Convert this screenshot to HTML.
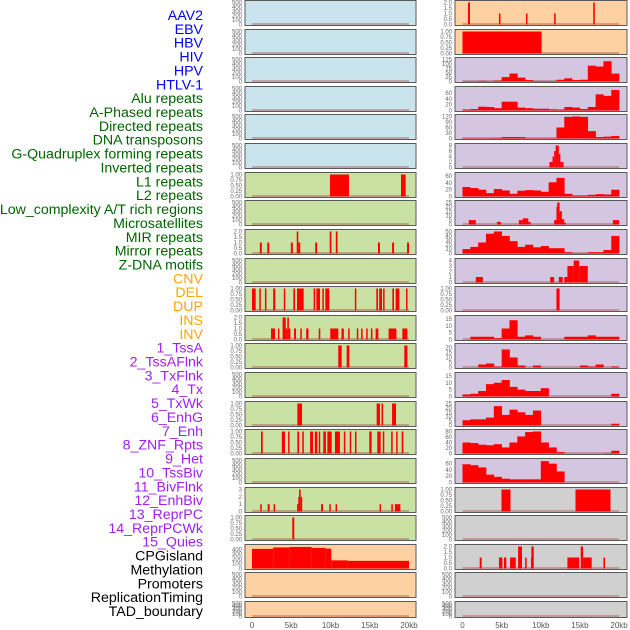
<!DOCTYPE html>
<html><head><meta charset="utf-8"><style>
html,body{margin:0;padding:0;background:#fff;width:630px;height:630px;overflow:hidden}
svg{display:block;font-family:"Liberation Sans",sans-serif}
</style></head><body>
<svg id="chart" width="630" height="630"></svg>
<script>
// ---------- data ----------
const labels=["AAV2","EBV","HBV","HIV","HPV","HTLV-1","Alu repeats","A-Phased repeats","Directed repeats","DNA transposons","G-Quadruplex forming repeats","Inverted repeats","L1 repeats","L2 repeats","Low_complexity A/T rich regions","Microsatellites","MIR repeats","Mirror repeats","Z-DNA motifs","CNV","DEL","DUP","INS","INV","1_TssA","2_TssAFlnk","3_TxFlnk","4_Tx","5_TxWk","6_EnhG","7_Enh","8_ZNF_Rpts","9_Het","10_TssBiv","11_BivFlnk","12_EnhBiv","13_ReprPC","14_ReprPCWk","15_Quies","CPGisland","Methylation","Promoters","ReplicationTiming","TAD_boundary"];
const labelGroups=[6,13,5,15,5];
const xTicks=[0,5,10,15,20];
const xTickLabels=["0","5kb","10kb","15kb","20kb"];
const T500=[0,100,200,300,400,500];
const T1=[0,0.25,0.5,0.75,1];
const T2=[0,0.5,1,1.5,2];
// segments: [startKb,endKb,value]
const L6=[[9.93,12.35,1],[18.98,19.57,1]];
const L8=[[1.0,1.25,1],[1.95,2.2,1],[4.95,5.2,1],[5.7,5.9,2],[5.9,6.15,1],[8.05,8.3,1],[9.9,10.12,2],[10.68,10.9,2],[16.05,16.3,1],[17.85,18.1,1],[19.75,20,1]];
const L10=[[0,0.47,1],[0.93,1.1,1],[1.65,1.8,1],[2.7,2.97,1],[4.05,4.2,1],[5.27,5.48,1],[5.73,6.58,1],[7.85,8.02,1],[8.2,8.66,1],[8.96,9.08,1],[9.34,9.85,1],[13.1,13.25,1],[15.84,16.05,1],[16.2,16.56,1],[16.7,16.85,1],[17.88,18.09,1],[18.3,18.77,1],[19.62,19.78,1]];
const L11=[[2.42,2.93,1],[3.3,3.45,1],[3.9,4.3,2],[4.3,4.5,1],[4.5,4.7,2],[4.7,4.8,1],[5.35,5.6,1],[6.15,6.3,1],[6.9,7.2,1],[8.5,8.7,1],[9.97,11,1],[11.4,11.7,1],[12.25,12.4,1],[13.35,13.5,1],[13.9,14.05,1],[14.55,14.7,1],[15.15,15.3,1],[15.75,16.1,1],[17.4,18.4,1],[19.15,19.8,1]];
const L12=[[10.99,11.42,1],[12.06,12.4,1],[19.4,19.8,1]];
const L14=[[5.78,6.37,1],[15.88,16.3,1],[16.5,16.7,1],[17.84,18.35,1]];
const L15=[[1.15,1.37,1],[3.8,4.2,1],[4.6,4.75,1],[5.78,6.0,1],[6.4,6.6,1],[7.4,7.77,1],[8.0,8.32,1],[8.5,8.65,1],[9.08,9.42,1],[9.6,10.15,1],[10.57,11.2,1],[11.7,11.85,1],[12.45,12.6,1],[13.12,13.27,1],[14.94,15.24,1],[15.96,16.39,1],[16.66,16.8,1],[17.73,17.88,1],[18.36,18.5,1],[19.07,19.28,1]];
const L17=[[1.05,1.2,1],[2.0,2.25,1],[2.75,2.95,1],[5.75,5.9,1],[5.9,6.0,2],[6.0,6.2,3],[6.2,6.3,2],[8.8,9.05,1],[9.85,10.0,1],[10.65,10.8,1],[16.25,16.4,1],[17.75,17.9,1],[18.2,18.9,1]];
const L18=[[5.13,5.39,1]];
const L19=[[0,2.7,410],[2.7,4.8,440],[4.8,7.6,450],[7.6,9.4,430],[9.4,10.1,415],[10.1,12.2,170],[12.2,20,160]];
const R0=[[0.7,0.95,2],[4.65,4.85,1],[8.1,8.3,1],[11.7,11.9,1],[16.7,16.9,2]];
const R1=[[0,10.1,1]];
const R5=[[11.1,11.5,2],[11.5,11.7,4],[11.7,11.9,6],[11.9,12.3,8],[12.3,12.5,5],[12.5,12.9,2]];
const R7=[[0.8,1.7,5],[4.4,4.9,3],[7.2,7.7,5],[7.7,8.4,7],[8.4,8.7,3],[11.7,12.0,5],[12.0,12.1,20],[12.1,12.4,25],[12.4,12.7,15],[12.7,13.0,6],[13.0,13.2,2],[19.2,20,5]];
const R9=[[1.7,2.6,1],[11.2,11.7,1],[12.3,12.8,1],[13.0,13.4,1],[13.4,14.2,3],[14.2,14.9,4],[14.9,16.0,3]];
const R10=[[12.0,12.4,1]];
const R17=[[4.98,6.13,1],[14.43,18.9,1]];
const R19=[[2.2,2.45,1],[4.66,5.1,1],[5.3,5.6,1],[6.07,6.8,1],[7.1,7.6,2],[8.0,8.2,1],[8.75,8.8,1],[8.8,9.1,2],[13.4,14.9,1],[15.1,15.4,2],[15.4,16.5,1],[18.0,18.2,1]];
// 1kb bins 0..20kb
const R2=[2,2,4,2,5,25,45,22,8,3,3,3,10,18,8,10,90,85,115,45];
const R3=[3,5,13,12,8,30,30,10,8,6,6,4,3,12,10,5,12,55,50,70];
const R4=[2,2,2,2,3,8,8,8,2,2,2,2,60,118,120,118,40,8,10,14];
const R6=[28,25,20,10,22,18,8,17,19,18,14,42,55,8,3,3,5,7,6,20];
const R8=[10,15,25,45,50,40,28,15,20,14,17,12,12,3,1,1,3,3,8,40];
const R11=[0,2,2,2,1,8,14,2,3,2,0,0,0,2,2,2,3,2,2,2];
const R12=[0,0,3,4,1,18,10,2,0,2,0,0,0,0,0,2,1,3,0,1];
const R13=[1.5,2,4,9,10,12,7,5,4,4,6,0,0,0,0,0,0,0,0,2];
const R14=[6,7,7,9,22,12,18,15,12,17,0,0,0,0,0,0,0,0,0,2];
const R15=[40,38,32,30,34,22,40,62,78,80,40,22,5,0,0,0,0,0,1,10];
const R16=[58,55,48,25,18,12,10,10,10,10,68,60,35,0,0,0,0,0,0,0];

// ---------- layout ----------
const C={blue:"#c9e4ec",orange:"#fdd1a1",green:"#c9e1a3",purple:"#d4c5e1",grey:"#d0d0d0"};
const panels=[
['L',0,'blue',T500,null,null],['R',0,'orange',T2,R0,null],
['L',1,'blue',T500,null,null],['R',1,'orange',T1,R1,null],
['L',2,'blue',T500,null,null],['R',2,'purple',[0,25,50,75,100,125],null,R2],
['L',3,'blue',T500,null,null],['R',3,'purple',[0,20,40,60],null,R3,75],
['L',4,'blue',T500,null,null],['R',4,'purple',[0,30,60,90,120],null,R4],
['L',5,'blue',T500,null,null],['R',5,'purple',[0,2,4,6,8],R5,null],
['L',6,'green',T1,L6,null],['R',6,'purple',[0,20,40,60],null,R6,65],
['L',7,'green',T500,null,null],['R',7,'purple',[0,5,10,15,20,25],R7,null],
['L',8,'green',T2,L8,null],['R',8,'purple',[0,10,20,30,40,50],null,R8],
['L',9,'green',T500,null,null],['R',9,'purple',[0,1,2,3,4],R9,null],
['L',10,'green',T1,L10,null],['R',10,'purple',T1,R10,null],
['L',11,'green',T2,L11,null],['R',11,'purple',[0,5,10,15],null,R11,16],
['L',12,'green',T1,L12,null],['R',12,'purple',[0,5,10,15,20],null,R12,22],
['L',13,'green',T500,null,null],['R',13,'purple',[0,5,10,15],null,R13,16],
['L',14,'green',T1,L14,null],['R',14,'purple',[0,5,10,15,20,25],null,R14],
['L',15,'green',T1,L15,null],['R',15,'purple',[0,20,40,60,80],null,R15],
['L',16,'green',T500,null,null],['R',16,'purple',[0,20,40,60],null,R16,70],
['L',17,'green',[0,1,2,3],L17,null],['R',17,'grey',T1,R17,null],
['L',18,'green',T1,L18,null],['R',18,'grey',T500,null,null],
['L',19,'orange',[0,100,200,300,400],L19,null,460],['R',19,'grey',T2,R19,null],
['L',20,'orange',T500,null,null],['R',20,'grey',T500,null,null],
['L',21,'orange',T500,null,null],['R',21,'grey',T500,null,null]];

const NS="http://www.w3.org/2000/svg";
const svg=document.getElementById('chart');
function mk(tag,attrs,parent){const e=document.createElementNS(NS,tag);for(const k in attrs)e.setAttribute(k,attrs[k]);(parent||svg).appendChild(e);return e;}
function xs(col,kb){return col==='L'?252+kb*7.85:462.5+kb*7.83;}
function fmt(ticks,v){const s=ticks[ticks.length-1];if(s===1)return v.toFixed(2);if(s===2)return v.toFixed(1);return String(v);}

// left labels
const colors=["#0000ee","#006400","#ffa500","#a020f0","#000000"];
const pitch=596/(labels.length-1);
let li=0;
labelGroups.forEach((n,g)=>{for(let k=0;k<n;k++){
 const t=mk('text',{x:203,y:15+li*pitch+5,'text-anchor':'end','font-size':'14.2',fill:colors[g]});
 t.textContent=labels[li];
 
 
 li++;}});

panels.forEach(p=>{
 const [col,row,bg,ticks,segs,bins,ymaxO]=p;
 const x0=col==='L'?245:455,w=col==='L'?171:172;
 const top=Math.round(row*28.62)+0.5,h=row===21?16:25;
 const g=mk('g',{});
 
 
 const r=mk('rect',{x:x0,y:top,width:w,height:h,fill:C[bg],stroke:'#5a5a5a','stroke-width':1},g);
 
 
 const ymax=ymaxO||ticks[ticks.length-1];
 const yb=top+h-1,ytop=top+2;
 const ys=v=>yb-(v/ymax)*(yb-ytop);
 ticks.forEach(v=>{
  const t=mk('text',{x:x0-3,y:ys(v)+2,'text-anchor':'end','font-size':'6',fill:'#666'},g);
  t.textContent=fmt(ticks,v);
  
  
 });
 const bl=mk('line',{x1:xs(col,0),x2:xs(col,20),y1:yb-0.5,y2:yb-0.5,stroke:'rgba(170,60,60,0.5)','stroke-width':1.5},g);
 
 
 if(segs)segs.forEach(s=>{
  const a=xs(col,s[0]),b=xs(col,s[1]);
  const m=mk('rect',{x:a,y:ys(s[2]),width:Math.max(1.5,b-a),height:yb-ys(s[2]),fill:'#ff0000'},g);
  
  
 });
 if(bins)bins.forEach((v,i)=>{
  if(v<=0)return;
  const a=xs(col,i),b=xs(col,i+1);
  const m=mk('rect',{x:a,y:ys(v),width:b-a+0.3,height:yb-ys(v),fill:'#ff0000'},g);
  
  
 });
});

// x axes
['L','R'].forEach(col=>{xTicks.forEach((kb,i)=>{
 const t=mk('text',{x:xs(col,kb),y:628,'text-anchor':'middle','font-size':'8',fill:'#555'});
 t.textContent=xTickLabels[i];
 
 
});});
</script>
</body></html>
